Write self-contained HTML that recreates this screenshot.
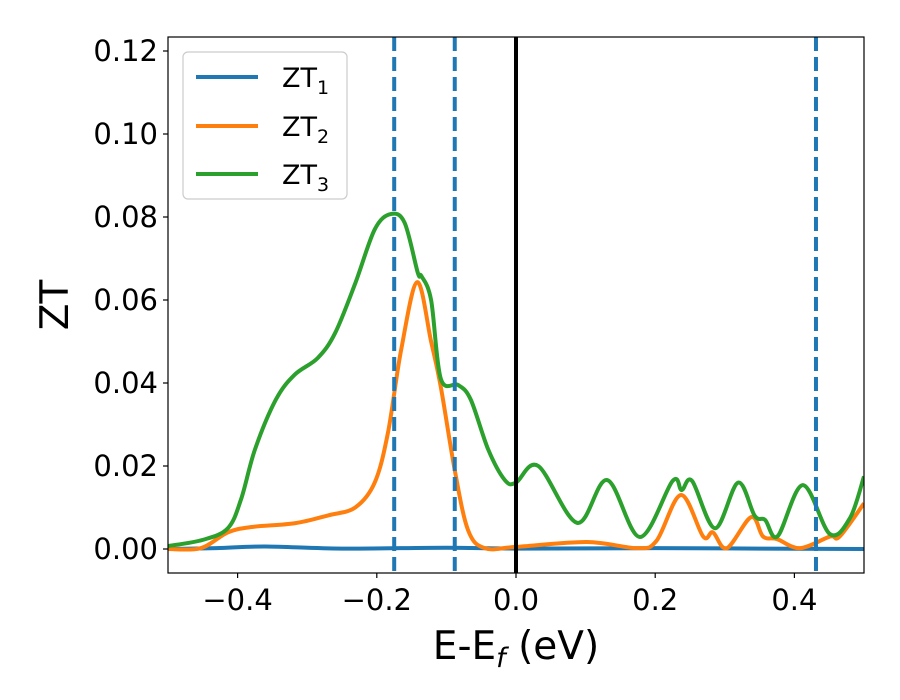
<!DOCTYPE html>
<html><head><meta charset="utf-8"><style>
html,body{margin:0;padding:0;background:#fff;}
svg{display:block;font-family:"DejaVu Sans","Liberation Sans",sans-serif;}
</style></head><body>
<svg id="chart" width="900" height="700">
<rect x="0" y="0" width="900" height="700" fill="#fff"/>
<g id="marks"></g>
<g id="axes"></g>
</svg>
<script>
const xTicks=[-0.4,-0.2,0.0,0.2,0.4];
const xTickLabels=["\u22120.4","\u22120.2","0.0","0.2","0.4"];
const yTicks=[0,0.02,0.04,0.06,0.08,0.10,0.12];
const yTickLabels=["0.00","0.02","0.04","0.06","0.08","0.10","0.12"];
const dashedLines=[-0.175,-0.088,0.431];
const zt1E=[-0.5,-0.43,-0.36,-0.25,-0.1,0,0.2,0.35,0.5];
const zt1V=[0,0.0002,0.0006,0.0001,0.0003,0.0001,0.0002,0.0001,0];
const zt2E=[-0.5,-0.453,-0.414,-0.38,-0.318,-0.27,-0.231,-0.203,-0.184,-0.165,-0.142,-0.122,-0.108,-0.088,-0.069,-0.045,0,0.102,0.174,0.202,0.237,0.269,0.283,0.303,0.338,0.355,0.375,0.408,0.451,0.465,0.5];
const zt2V=[0,0.0002,0.004,0.0053,0.0062,0.0081,0.010,0.016,0.028,0.048,0.0643,0.050,0.039,0.019,0.0046,0.0002,0.0005,0.0017,0.0002,0.002,0.013,0.003,0.004,0.0002,0.0077,0.003,0.0024,0.0002,0.003,0.003,0.011];
const zt3E=[-0.5,-0.45,-0.414,-0.395,-0.375,-0.345,-0.318,-0.285,-0.26,-0.231,-0.203,-0.18,-0.16,-0.141,-0.136,-0.122,-0.108,-0.083,-0.065,-0.04,-0.016,0,0.032,0.088,0.131,0.178,0.225,0.238,0.253,0.286,0.319,0.343,0.358,0.376,0.412,0.451,0.48,0.5];
const zt3V=[0.0007,0.0022,0.005,0.012,0.024,0.036,0.042,0.046,0.052,0.064,0.077,0.0807,0.0786,0.0665,0.0658,0.060,0.041,0.0395,0.036,0.024,0.0166,0.016,0.020,0.0063,0.0166,0.0029,0.0164,0.0142,0.0164,0.005,0.016,0.008,0.007,0.0031,0.0154,0.0036,0.0075,0.0175];

const L=168,R=864,T=37,B=573;
const xs=e=>L+(e+0.5)*(R-L)/1.0;
const ys=v=>549-v*4150;
const NS="http://www.w3.org/2000/svg";
function mk(tag,attrs,parent){const el=document.createElementNS(NS,tag);for(const k in attrs)el.setAttribute(k,attrs[k]);parent.appendChild(el);return el;}
function smooth(E,V){
  const p=E.map((e,i)=>[xs(e),ys(V[i])]);
  let d="M"+p[0][0]+","+p[0][1];
  for(let i=0;i<p.length-1;i++){
    const p0=p[Math.max(0,i-1)],p1=p[i],p2=p[i+1],p3=p[Math.min(p.length-1,i+2)];
    const c1=[p1[0]+(p2[0]-p0[0])/6,p1[1]+(p2[1]-p0[1])/6];
    const c2=[p2[0]-(p3[0]-p1[0])/6,p2[1]-(p3[1]-p1[1])/6];
    d+=" C"+c1+" "+c2+" "+p2;
  }
  return d;
}
const marks=document.getElementById('marks');
const axes=document.getElementById('axes');
const defs=mk('defs',{},marks);
const cp=mk('clipPath',{id:'clip'},defs);
mk('rect',{x:L,y:T,width:R-L,height:B-T},cp);
const g=mk('g',{'clip-path':'url(#clip)'},marks);
const s1=mk('path',{d:smooth(zt1E,zt1V),fill:'none',stroke:'#1f77b4','stroke-width':4},g);


const s2=mk('path',{d:smooth(zt2E,zt2V),fill:'none',stroke:'#ff7f0e','stroke-width':4},g);


const s3=mk('path',{d:smooth(zt3E,zt3V),fill:'none',stroke:'#2ca02c','stroke-width':4},g);


dashedLines.forEach(e=>{
  const l=mk('line',{x1:xs(e),x2:xs(e),y1:T,y2:B,stroke:'#1f77b4','stroke-width':4,'stroke-dasharray':'14,6'},marks);
  
  
});
const fl=mk('line',{x1:xs(0),x2:xs(0),y1:T,y2:B,stroke:'#000','stroke-width':4},marks);


const fr=mk('rect',{x:L,y:T,width:R-L,height:B-T,fill:'none',stroke:'#000','stroke-width':1.2},axes);


xTicks.forEach((t,i)=>{
  mk('line',{x1:xs(t),x2:xs(t),y1:B,y2:B+5,stroke:'#000','stroke-width':1.2},axes);
  const tx=mk('text',{x:xs(t),y:B+37,'text-anchor':'middle','font-size':29},axes);
  tx.textContent=xTickLabels[i];
  
  
});
yTicks.forEach((t,i)=>{
  mk('line',{x1:L-5,x2:L,y1:ys(t),y2:ys(t),stroke:'#000','stroke-width':1.2},axes);
  const tx=mk('text',{x:L-10,y:ys(t)+10,'text-anchor':'end','font-size':29},axes);
  tx.textContent=yTickLabels[i];
  
  
});
</script>
<svg style="position:absolute;left:0;top:0;font-family:'DejaVu Sans',sans-serif" width="900" height="700">
<text x="516" y="659" text-anchor="middle" font-size="39">E-E<tspan font-size="27" dy="8" font-style="italic">f</tspan><tspan dy="-8"> (eV)</tspan></text>
<text transform="translate(68,305) rotate(-90)" text-anchor="middle" font-size="39">ZT</text>
<g>
<rect x="183" y="52" width="164" height="147" rx="5" fill="#fff" fill-opacity="0.85" stroke="#ccc" stroke-width="1.2"/>
<g><line x1="196" x2="258" y1="77" y2="77" stroke="#1f77b4" stroke-width="4"/><text x="282" y="87" font-size="27">ZT<tspan font-size="19" dy="7">1</tspan></text></g>
<g><line x1="196" x2="258" y1="126" y2="126" stroke="#ff7f0e" stroke-width="4"/><text x="282" y="136" font-size="27">ZT<tspan font-size="19" dy="7">2</tspan></text></g>
<g><line x1="196" x2="258" y1="174" y2="174" stroke="#2ca02c" stroke-width="4"/><text x="282" y="184" font-size="27">ZT<tspan font-size="19" dy="7">3</tspan></text></g>
</g>
</svg>
</body></html>
